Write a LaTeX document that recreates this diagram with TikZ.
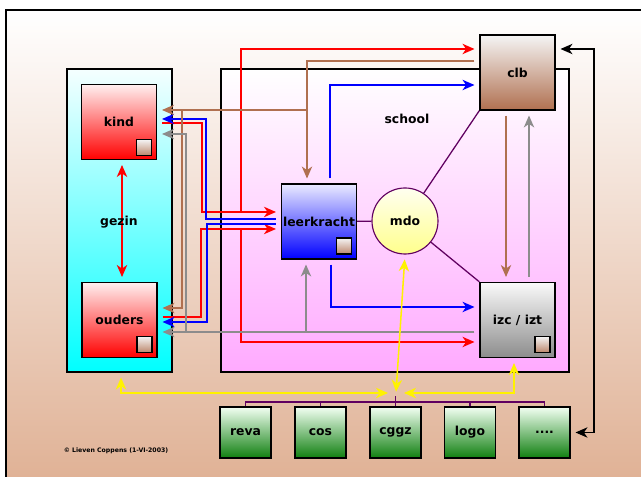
\documentclass[tikz,border=0pt]{standalone}
\usepackage{fontspec}
\setmainfont{DejaVu Sans}
\usepackage{xcolor}
\usetikzlibrary{arrows.meta, positioning}

\definecolor{achter}{RGB}{224,178,150}
\definecolor{bruin}{RGB}{176,112,80}
\definecolor{grijs}{RGB}{140,140,140}
\definecolor{paars}{RGB}{96,0,96}
\definecolor{groen}{RGB}{16,128,16}
\definecolor{roze}{RGB}{255,170,255}

\begin{document}
\begin{tikzpicture}[x=0.025cm, y=-0.025cm,
    >={Stealth[length=3mm, width=2.6mm, inset=0.9mm]},
    block/.style={rectangle, draw, line width=1pt, minimum width=1.875cm,
                  minimum height=1.875cm, inner sep=0pt,
                  font=\bfseries\fontsize{8.8}{10}\selectfont},
    rblock/.style={block, top color=red!6, bottom color=red},
    bblock/.style={block, top color=blue!8, bottom color=blue},
    cblock/.style={block, top color=black!4, bottom color=bruin},
    gblock/.style={block, top color=black!2, bottom color=black!45},
    dblock/.style={block, minimum width=1.275cm, minimum height=1.275cm,
                   top color=green!5, bottom color=groen},
    icon/.style={rectangle, draw, line width=1pt, minimum width=0.375cm,
                 minimum height=0.4cm, inner sep=0pt, anchor=south east,
                 top color=black!4, bottom color=bruin!85},
    kader/.style={rectangle, draw, line width=1pt, minimum height=7.575cm},
    lbl/.style={font=\bfseries\fontsize{8.8}{10}\selectfont},
    lijn/.style={line width=1pt},
    pijl/.style={lijn, ->, shorten >=1.2mm, shorten <=1.2mm},
    tak/.style={lijn, ->, shorten >=1.2mm},
    dpijl/.style={lijn, <->, shorten >=1.2mm, shorten <=1.2mm},
    plijn/.style={paars, line width=0.9pt},
]
\useasboundingbox (0,0) rectangle (641,477);
% achtergrond
\fill[top color=white, bottom color=achter] (6,10) rectangle (641,477);
\draw[line width=0.8pt] (6,477) |- (641,10);

% gezin en school
\node[kader, minimum width=2.625cm, top color=cyan!4, bottom color=cyan] (gezin) at (119.5,220.5) {};
\node[kader, minimum width=8.7cm, top color=white, bottom color=roze] (school) at (395,220.5) {};

% blokken
\node[rblock] (kind)       at (119,122)   {kind};
\node[rblock] (ouders)     at (119.5,320) {ouders};
\node[bblock] (leerkracht) at (319,221.5) {leerkracht};
\node[cblock] (clb)        at (517.5,72.5) {clb};
\node[gblock] (izc)        at (517.5,320) {izc / izt};
\node[circle, draw=paars, line width=0.8pt, minimum size=1.65cm, top color=yellow!6,
      bottom color=yellow!45, font=\bfseries\fontsize{8.8}{10}\selectfont] (mdo) at (405,221) {mdo};
\node[icon] (kindicon)   at ([shift={(-5,-4)}]kind.south east) {};
\node[icon] (oudersicon) at ([shift={(-5,-5)}]ouders.south east) {};
\node[icon] (leericon)   at ([shift={(-5,-5)}]leerkracht.south east) {};
\node[icon] (izcicon)    at ([shift={(-5,-5)}]izc.south east) {};

% diensten
\node[dblock] (reva) at (245.5,432.5) {reva};
\node[dblock] (cos)  at (320.5,432.5) {cos};
\node[dblock] (cggz) at (395.5,432.5) {cggz};
\node[dblock] (logo) at (470,432.5)   {logo};
\node[dblock] (dots) at (544.5,432.5) {....};

% rood
\draw[pijl, red] (kind.east |- 0,123) -| (202,212) -- (leerkracht.west |- 0,212);
\draw[tak, red] (241,212) |- (clb.west |- 0,49);
\draw[pijl, red] (ouders.east |- 0,317) -| (201,229) -- (leerkracht.west |- 0,229);
\draw[tak, red] (241,229) |- (izc.west |- 0,342);
\draw[dpijl, red] (kind.south -| 122,0) -- (ouders.north -| 122,0);
% blauw
\draw[pijl, blue] (leerkracht.west |- 0,219) -| (206,119) -- (kind.east |- 0,119);
\draw[pijl, blue] (leerkracht.west |- 0,224) -| (207,322) -- (ouders.east |- 0,322);
\draw[pijl, blue] (leerkracht.north -| 330,0) |- (clb.west |- 0,85);
\draw[pijl, blue] (leerkracht.south -| 331,0) |- (izc.west |- 0,307);
% bruin
\draw[pijl, bruin, line width=0.75pt] (clb.west |- 0,61) -| (leerkracht.north -| 307,0);
\draw[tak, bruin, line width=0.75pt] (307,110) -- (kind.east |- 0,110);
\draw[tak, bruin, line width=0.75pt] (182,110) |- (ouders.east |- 0,308);
\draw[pijl, bruin, line width=0.75pt] (clb.south -| 506,0) -- (izc.north -| 506,0);
% grijs
\draw[pijl, grijs] (izc.north -| 529,0) -- (clb.south -| 529,0);
\draw[pijl, grijs] (izc.west |- 0,332) -- (ouders.east |- 0,332);
\draw[tak, grijs] (306,332) -- (leerkracht.south -| 306,0);
\draw[tak, grijs] (186,332) |- (kind.east |- 0,134);
% zwart
\draw[dpijl, line width=0.8pt] (clb.east |- 0,49) -| (dots.east -| 594,0) -- (dots.east);
% mdo
\draw[plijn] (leerkracht) -- (mdo);
\draw[plijn] (mdo) -- (clb.south west);
\draw[plijn] (mdo) -- (izc.north west);
% geel
\coordinate (hub) at (396,393);
\draw[dpijl, yellow, line width=1.1pt, shorten >=2mm] (gezin.south -| 121,0) |- (hub);
\draw[dpijl, yellow, line width=1.1pt, shorten >=2mm] (izc.south -| 514,0) |- (hub);
\draw[dpijl, yellow, line width=1.1pt, shorten >=0.3mm] (mdo.south) -- (hub);
% bus
\draw[plijn] (reva.north) |- (dots.north |- 0,402) -- (dots.north);
\draw[plijn] (cos.north) -- ++(0,-5);
\draw[plijn] (logo.north) -- ++(0,-5);
\draw[plijn] (cggz.north) -- ++(0,-10);

% teksten
\node[lbl] (gezinlbl)  at (119,222) {gezin};
\node[lbl] (schoollbl) at (407,119) {school};
\node[font=\bfseries\fontsize{4.4}{5}\selectfont] (copy) at (116,451) {© Lieven Coppens (1-VI-2003)};
\end{tikzpicture}
\end{document}
